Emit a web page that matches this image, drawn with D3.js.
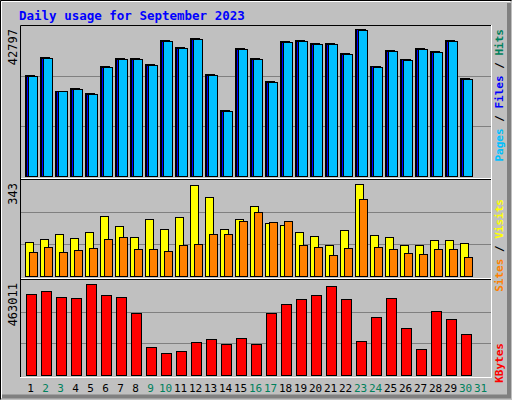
<!DOCTYPE html>
<html><head><meta charset="utf-8">
<script src="https://cdn.jsdelivr.net/npm/d3@7"></script>
<style>body{margin:0;background:#fff}</style>
</head><body><div id="chart"></div>
<script>
const days = d3.range(1, 32);
const weekend = [2, 3, 9, 10, 16, 17, 23, 24, 30, 31];
const hits = [28730,33870,24250,25020,23590,31300,33580,33580,31870,38720,36720,39290,29020,18740,36430,33580,27100,38430,38720,37860,37950,35090,41850,31300,35860,33300,36430,35580,38720,27870];
const files = [28500,33700,24150,24950,23450,31100,33350,33350,31650,38650,36600,39200,28850,18600,36300,33400,26950,38350,38650,37800,37700,34950,41800,31250,35800,33250,36350,35500,38650,27750];
const pages = [28420,33650,24120,24900,23300,31000,33250,33250,31550,38600,36550,39150,28800,18450,36250,33250,26900,38300,38600,37750,37600,34900,41750,31200,35750,33200,36300,35450,38600,27700];
const visits = [120,131,149,135,156,213,178,138,203,167,210,324,281,167,203,249,188,181,156,142,110,163,328,145,138,110,110,128,128,117];
const sites = [85,103,85,92,99,131,138,95,95,88,110,113,149,149,195,228,192,195,110,103,74,99,274,103,95,81,78,95,95,67];
const kbytes = [393300,408000,378700,373800,442100,388500,378700,300700,135000,105800,115500,159400,174000,149600,178900,149600,300700,344600,369000,388500,432300,369000,164300,281200,373800,227600,125300,310500,271500,198400];
const maxHits = 42797, maxVisits = 343, maxKB = 463011;

const W = 512, H = 400;
const svg = d3.select("#chart").append("svg").attr("width", W).attr("height", H)
  .style("font-family", "DejaVu Sans Mono, monospace");

// background with 3D border
svg.append("rect").attr("width", W).attr("height", H).attr("fill", "#c0c0c0");
svg.append("path").attr("d", "M0.5,399.5V0.5H511.5").attr("stroke", "#000").attr("fill", "none");
svg.append("path").attr("d", "M1.5,398V1.5H510").attr("stroke", "#fff").attr("fill", "none");
svg.append("path").attr("d", "M509,3V396.5H2").attr("stroke", "#808080").attr("stroke-width", 4).attr("fill", "none");

svg.append("text").attr("x", 19).attr("y", 20).attr("fill", "#0000ff")
  .style("font-weight", "bold").style("font-size", "12.5px")
  .text("Daily usage for September 2023");

// outer plot frame
svg.append("rect").attr("x", 20.5).attr("y", 25.5).attr("width", 471).attr("height", 352)
  .attr("fill", "none").attr("stroke", "#fff");
svg.append("path").attr("d", "M20.5,377V25.5H491").attr("stroke", "#000").attr("fill", "none");
[178.5, 278.5].forEach(y => {
  svg.append("line").attr("x1", 21).attr("x2", 491).attr("y1", y).attr("y2", y).attr("stroke", "#fff");
  svg.append("line").attr("x1", 21).attr("x2", 491).attr("y1", y + 1).attr("y2", y + 1).attr("stroke", "#000");
});

const x = d3.scaleBand().domain(days).range([18, 483]);

const panels = [
  { top: 26, bottom: 176, max: maxHits, label: maxHits },
  { top: 180, bottom: 276, max: maxVisits, label: maxVisits },
  { top: 280, bottom: 375, max: maxKB, label: maxKB }
];
const scales = panels.map(p => d3.scaleLinear().domain([0, p.max]).range([p.bottom, p.top]));

panels.forEach((p, i) => {
  const y = scales[i];
  svg.selectAll(null).data([p.max / 3, 2 * p.max / 3]).join("line")
    .attr("x1", 21).attr("x2", 491)
    .attr("y1", d => Math.round(y(d)) + 0.5).attr("y2", d => Math.round(y(d)) + 0.5)
    .attr("stroke", "#808080");
  svg.append("text").attr("transform", `translate(17,${p.top + 3}) rotate(-90)`)
    .attr("text-anchor", "end").style("font-size", "12px").text(p.label);
});

function bars(data, y, dx, w, fill) {
  svg.append("g").selectAll("rect").data(data).join("rect")
    .attr("x", (d, i) => x(days[i]) + dx + 0.5)
    .attr("y", d => Math.round(y(d)) + 0.5)
    .attr("width", w)
    .attr("height", d => Math.round(y(0) - y(d)))
    .attr("fill", fill).attr("stroke", "#000");
}
bars(hits, scales[0], 7, 9, "#00805c");
bars(files, scales[0], 8, 9, "#0000ff");
bars(pages, scales[0], 10, 9, "#00c0ff");
bars(visits, scales[1], 7, 8, "#ffff00");
bars(sites, scales[1], 11, 8, "#ff8000");
bars(kbytes, scales[2], 8, 10, "#ff0000");

svg.append("g").selectAll("text").data(days).join("text")
  .attr("x", d => x(d) + x.bandwidth() / 2 + 5)
  .attr("y", 392).attr("text-anchor", "middle").style("font-size", "11px")
  .attr("fill", d => weekend.includes(d) ? "#00805c" : "#000")
  .text(d => d);

function sideLabel(y, parts) {
  const t = svg.append("text").attr("transform", `translate(503,${y}) rotate(-90)`)
    .attr("text-anchor", "end").style("font-size", "11px").style("font-weight", "bold");
  parts.forEach(([s, c]) => t.append("tspan").attr("fill", c).text(s));
}
sideLabel(29, [["Pages", "#00c0ff"], [" / ", "#000"], ["Files", "#0000ff"], [" / ", "#000"], ["Hits", "#00805c"]]);
sideLabel(199, [["Sites", "#ff8000"], [" / ", "#000"], ["Visits", "#ffff00"]]);
sideLabel(343, [["KBytes", "#ff0000"]]);
</script></body></html>
